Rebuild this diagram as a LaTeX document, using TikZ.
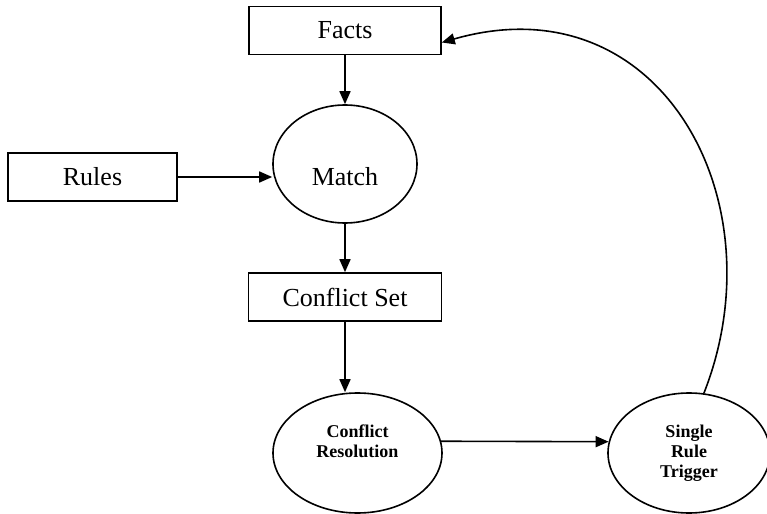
\documentclass[tikz,border=0pt]{standalone}
\usepackage{fontspec}
\setmainfont{Liberation Serif}
\usetikzlibrary{arrows.meta,shapes.geometric}

\begin{document}
\begin{tikzpicture}[
  x=0.5pt, y=-0.5pt,
  >={Triangle[length=6.5pt,width=5.5pt]},
  line width=0.8pt,
  every node/.style={font=\fontsize{13}{15}\selectfont},
  box/.style={draw, rectangle, inner sep=0pt, minimum width=96pt, minimum height=24pt},
  oval/.style={draw, ellipse, inner sep=0pt, minimum width=84.5pt, minimum height=60pt},
  small/.style={font=\fontsize{9}{10}\selectfont\bfseries, align=center}
]
\useasboundingbox (0,0) rectangle (767,514);

\node[box] (facts) at (345,30.5) {Facts};
\node[box, minimum width=84.5pt] (rules) at (92.5,177) {Rules};
\node[oval, minimum width=72pt, minimum height=59pt,
  label={[yshift=-6.5pt]center:Match}] (match) at (345,164) {};
\node[box, minimum width=96.5pt] (cset) at (345,297) {Conflict Set};
\node[oval, label={[small, yshift=6pt]center:Conflict\\Resolution}] (resol) at (357.5,453) {};
\node[oval, minimum width=81pt] (trigger) at (689,453) {};
\node[small] (trigtext) at (trigger.center) {Single\\Rule\\Trigger};

\draw[->] (facts.south) -- (match.north);
\draw[->] (rules.east) -- (match.west |- rules.east);
\draw[->] (match.south) -- (cset.north);
\draw[->] (cset.south) -- (cset.south |- resol.north);
\draw[->] (resol.8) -- (trigger.172);
% back to the facts
\draw[->] (trigger.76) .. controls (780,200) and (660,-20) .. ([yshift=-6pt]facts.east);
\end{tikzpicture}
\end{document}
